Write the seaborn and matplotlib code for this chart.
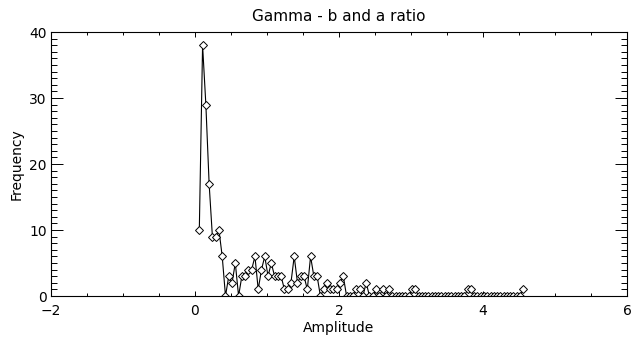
import numpy as np
import pandas as pd
import matplotlib
matplotlib.use("Agg")
import matplotlib.pyplot as plt
from matplotlib.ticker import MultipleLocator
import seaborn as sns

# histogram of b/a ratio, 100 bins
bin_start = 0.06
bin_width = 0.04545
frequency = [10, 38, 29, 17, 9, 9, 10, 6, 0, 3,
             2, 5, 0, 3, 3, 4, 4, 6, 1, 4,
             6, 3, 5, 3, 3, 3, 1, 1, 2, 6,
             2, 3, 3, 1, 6, 3, 3, 0, 1, 2,
             1, 1, 1, 2, 3, 0, 0, 0, 1, 1,
             0, 2, 0, 0, 1, 0, 1, 0, 1, 0,
             0, 0, 0, 0, 0, 1, 1, 0, 0, 0,
             0, 0, 0, 0, 0, 0, 0, 0, 0, 0,
             0, 0, 1, 1, 0, 0, 0, 0, 0, 0,
             0, 0, 0, 0, 0, 0, 0, 0, 0, 1]
amplitude = bin_start + bin_width * np.arange(len(frequency))

x_ticks = [-2, 0, 2, 4, 6]
y_ticks = [0, 10, 20, 30, 40]

df = pd.DataFrame({"Amplitude": amplitude, "Frequency": frequency})

sns.set_style("ticks")
plt.rcParams["font.family"] = ["DejaVu Sans"]
plt.rcParams["text.color"] = "black"
plt.rcParams["axes.labelcolor"] = "black"
plt.rcParams["xtick.color"] = "black"
plt.rcParams["ytick.color"] = "black"

fig = plt.figure(figsize=(6.39, 3.46), dpi=100)
ax = fig.add_axes([0.0798, 0.1445, 0.9014, 0.7630])

sns.lineplot(data=df, x="Amplitude", y="Frequency", ax=ax, color="black",
             linewidth=0.8, marker="D", markersize=3.6, markerfacecolor="white",
             markeredgecolor="black", markeredgewidth=0.7, sort=False)

ax.set_xlim(-2, 6)
ax.set_ylim(0, 40)
ax.set_xticks(x_ticks)
ax.set_yticks(y_ticks)
ax.xaxis.set_minor_locator(MultipleLocator(0.5))
ax.yaxis.set_minor_locator(MultipleLocator(1))

ax.tick_params(which="both", direction="in", top=True, right=True,
               labelsize=10, color="black", labelcolor="black", width=0.7)
ax.tick_params(axis="x", which="major", length=3.8, pad=6)
ax.tick_params(axis="x", which="minor", length=1.9)
ax.tick_params(axis="y", which="major", length=8.3, pad=3)
ax.tick_params(axis="y", which="minor", length=4.1)
for s in ax.spines.values():
    s.set_visible(True)
    s.set_linewidth(0.8)
    s.set_color("black")

ax.set_title("Gamma - b and a ratio", fontsize=11, pad=8, color="black")
ax.set_xlabel("Amplitude", fontsize=10, labelpad=2, color="black")
ax.set_ylabel("Frequency", fontsize=10, labelpad=4, color="black")

fig.savefig("out.png", dpi=100, facecolor="white")
